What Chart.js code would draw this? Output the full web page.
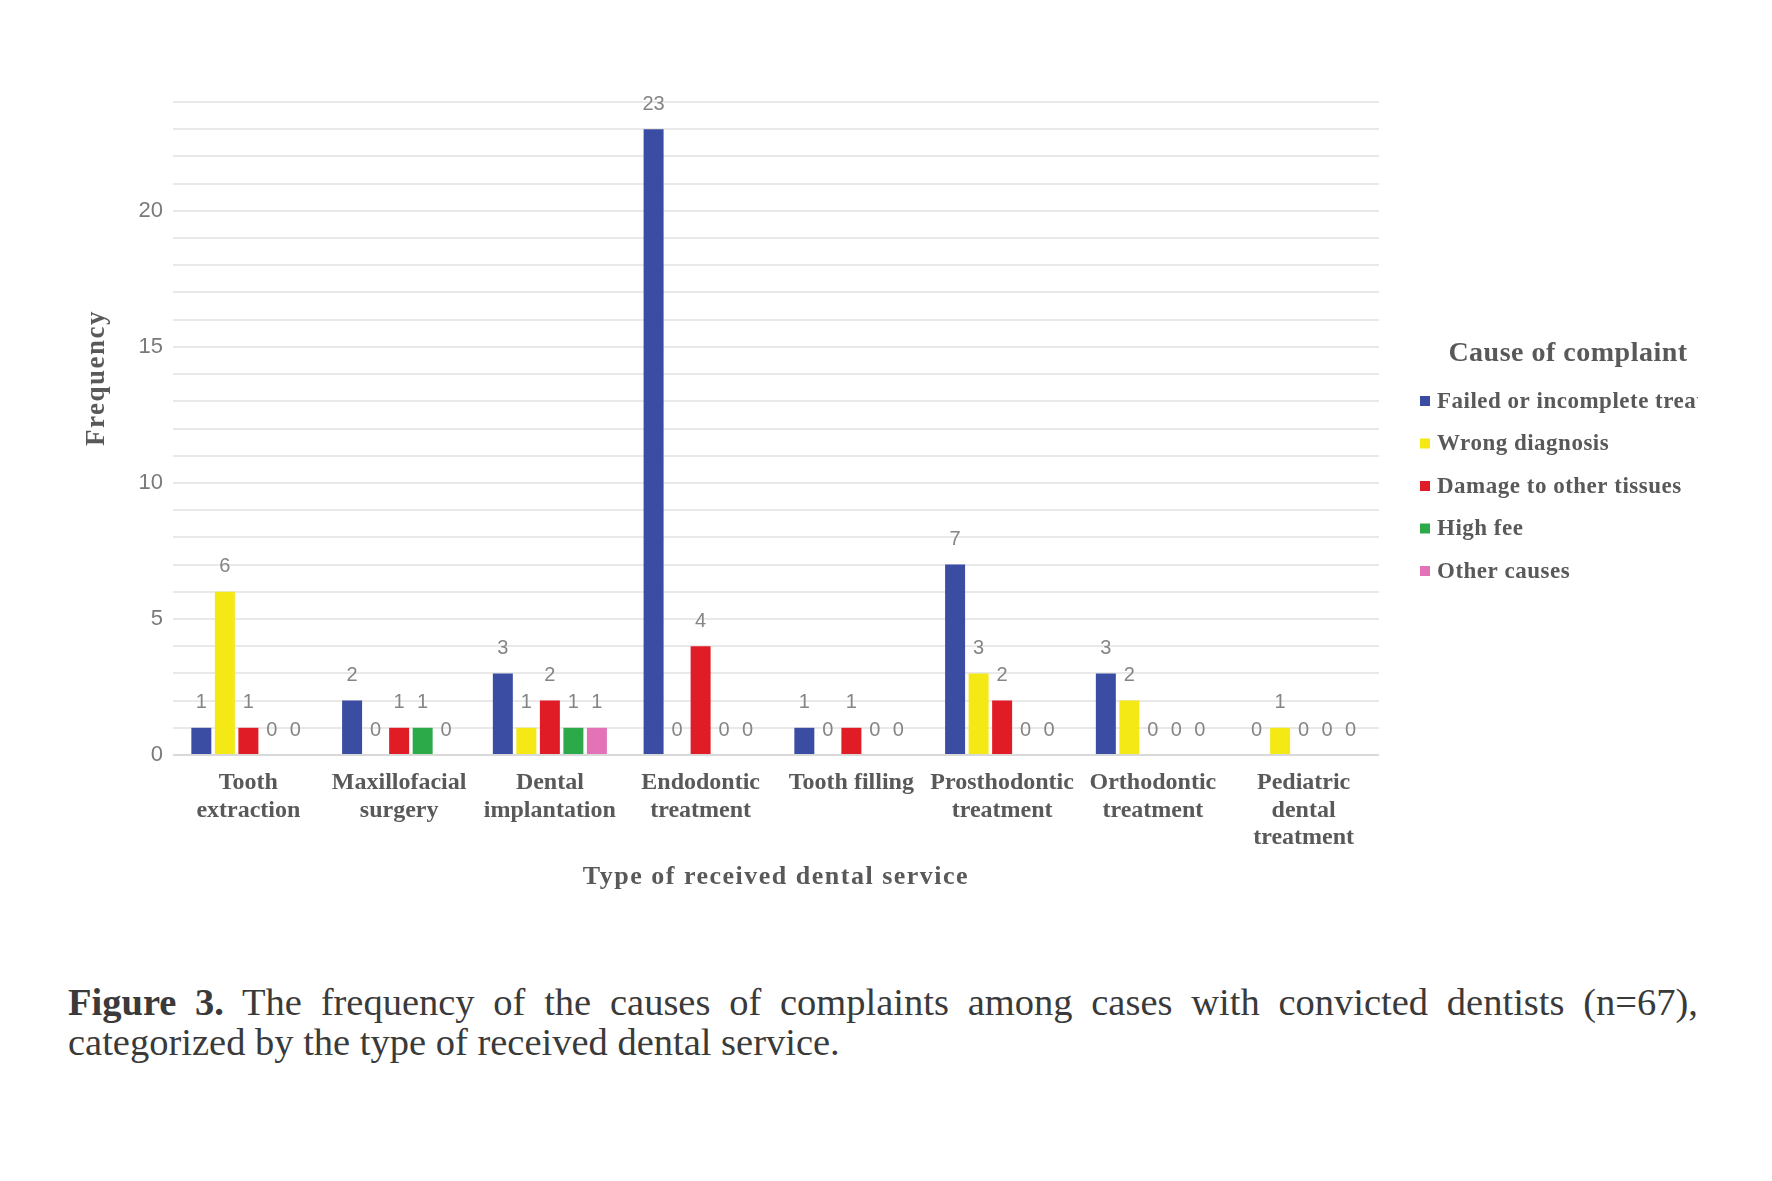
<!DOCTYPE html>
<html lang="en">
<head>
<meta charset="utf-8">
<title>Figure 3 - Causes of complaints by dental service</title>
<script src="https://cdn.jsdelivr.net/npm/chart.js@4.4.1/dist/chart.umd.min.js"></script>
<style>
    html, body { margin: 0; padding: 0; background: #fff; }
    body { width: 1772px; height: 1181px; position: relative; overflow: hidden; }
    #chart-box { position: absolute; left: 0; top: 0; width: 1698px; height: 920px; }
    .caption {
        position: absolute;
        left: 68px;
        width: 1630px;
        font-family: 'Liberation Serif', 'Times New Roman', serif;
        font-size: 38.5px;
        line-height: 40px;
        color: #3a3a3a;
    }
    .caption.first { top: 982px; text-align: justify; text-align-last: justify; }
    .caption.second { top: 1022px; }
</style>
</head>
<body>
<div id="chart-box"><canvas id="chart-canvas"></canvas></div>
<div class="caption first"><b>Figure 3.</b> The frequency of the causes of complaints among cases with convicted dentists (n=67),</div>
<div class="caption second">categorized by the type of received dental service.</div>

<script>
// Categorias (tipo de serviço)
const categories = [
    ['Tooth', 'extraction'],
    ['Maxillofacial', 'surgery'],
    ['Dental', 'implantation'],
    ['Endodontic', 'treatment'],
    'Tooth filling',
    ['Prosthodontic', 'treatment'],
    ['Orthodontic', 'treatment'],
    ['Pediatric', 'dental', 'treatment']
];

// Séries (causa da queixa)
const seriesNames = [
    'Failed or incomplete treatment',
    'Wrong diagnosis',
    'Damage to other tissues',
    'High fee',
    'Other causes'
];
const failedTreatment = [1, 2, 3, 23, 1, 7, 3, 0];
const wrongDiagnosis  = [6, 0, 1, 0, 0, 3, 2, 1];
const tissueDamage    = [1, 1, 2, 4, 1, 2, 0, 0];
const highFee         = [0, 1, 1, 0, 0, 0, 0, 0];
const otherCauses     = [0, 0, 1, 0, 0, 0, 0, 0];

// Eixo Y
const yMax = 24;
const yLabelEvery = 5;

const xTitle = 'Type of received dental service';
const yTitle = 'Frequency';
const legendTitle = 'Cause of complaint';

const seriesColors = ['#3a4da2', '#f4e914', '#e01c26', '#2caa4a', '#e472b6'];
const serif = "'Liberation Serif', 'Times New Roman', serif";
const sans = "'Liberation Sans', Arial, sans-serif";
const textGray = '#595959';

// Rótulos de valor acima das barras
const valueLabels = {
    id: 'valueLabels',
    afterDatasetsDraw(chart) {
        const ctx = chart.ctx;
        ctx.save();
        ctx.font = `20px ${sans}`;
        ctx.fillStyle = '#858585';
        ctx.textAlign = 'center';
        ctx.textBaseline = 'middle';
        chart.data.datasets.forEach((ds, i) => {
            chart.getDatasetMeta(i).data.forEach((bar, j) => {
                ctx.fillText(String(ds.data[j]), bar.x, bar.y - 25);
            });
        });
        ctx.restore();
    }
};

// Títulos dos eixos e legenda à direita
const sideTexts = {
    id: 'sideTexts',
    afterDraw(chart) {
        const ctx = chart.ctx;
        const area = chart.chartArea;

        // Frequency
        ctx.save();
        ctx.translate(97, 378);
        ctx.rotate(-Math.PI / 2);
        ctx.font = `bold 27px ${serif}`;
        ctx.letterSpacing = '1.5px';
        ctx.fillStyle = textGray;
        ctx.textAlign = 'center';
        ctx.textBaseline = 'middle';
        ctx.fillText(yTitle, 0, 0);
        ctx.restore();

        // Type of received dental service
        ctx.save();
        ctx.font = `bold 26px ${serif}`;
        ctx.letterSpacing = '1.5px';
        ctx.fillStyle = textGray;
        ctx.textAlign = 'center';
        ctx.textBaseline = 'middle';
        ctx.fillText(xTitle, (area.left + area.right) / 2, 877);
        ctx.restore();

        // Legenda
        ctx.save();
        ctx.fillStyle = textGray;
        ctx.textBaseline = 'middle';
        ctx.font = `bold 28px ${serif}`;
        ctx.letterSpacing = '0.5px';
        ctx.textAlign = 'center';
        ctx.fillText(legendTitle, area.right + 189, 354);

        ctx.font = `bold 23px ${serif}`;
        ctx.textAlign = 'left';
        chart.data.datasets.forEach((ds, i) => {
            const cy = 401 + i * 42.5;
            ctx.fillStyle = ds.backgroundColor;
            ctx.fillRect(area.right + 41, cy - 5, 10, 10);
            ctx.fillStyle = textGray;
            ctx.fillText(ds.label, area.right + 58, cy + 1);
        });
        ctx.restore();
    }
};

const seriesData = [failedTreatment, wrongDiagnosis, tissueDamage, highFee, otherCauses];

const chart = new Chart(document.getElementById('chart-canvas'), {
    type: 'bar',
    data: {
        labels: categories,
        datasets: seriesData.map((values, i) => ({
            label: seriesNames[i],
            data: values,
            backgroundColor: seriesColors[i],
            categoryPercentage: 0.78,
            barPercentage: 0.85
        }))
    },
    options: {
        responsive: true,
        maintainAspectRatio: false,
        animation: false,
        layout: { padding: { top: 102, right: 319, left: 0, bottom: 0 } },
        plugins: {
            legend: { display: false },
            tooltip: { enabled: false }
        },
        scales: {
            x: {
                grid: { display: false, drawTicks: false },
                border: { display: false },
                ticks: {
                    color: textGray,
                    font: { family: serif, size: 24, weight: 'bold', lineHeight: 1.15 },
                    padding: 14,
                    maxRotation: 0,
                    autoSkip: false
                },
                afterFit: s => { s.height = 165; }
            },
            y: {
                min: 0,
                max: yMax,
                grid: {
                    color: c => c.tick && c.tick.value === 0 ? '#d9d9d9' : '#e9e9e9',
                    lineWidth: 2,
                    drawTicks: false
                },
                border: { display: false },
                ticks: {
                    stepSize: 1,
                    autoSkip: false,
                    padding: 10,
                    color: '#7a7a7a',
                    font: { family: sans, size: 22 },
                    callback: v => (v % yLabelEvery === 0 ? v : '')
                },
                afterFit: s => { s.width = 173; }
            }
        }
    },
    plugins: [valueLabels, sideTexts]
});
</script>
</body>
</html>
